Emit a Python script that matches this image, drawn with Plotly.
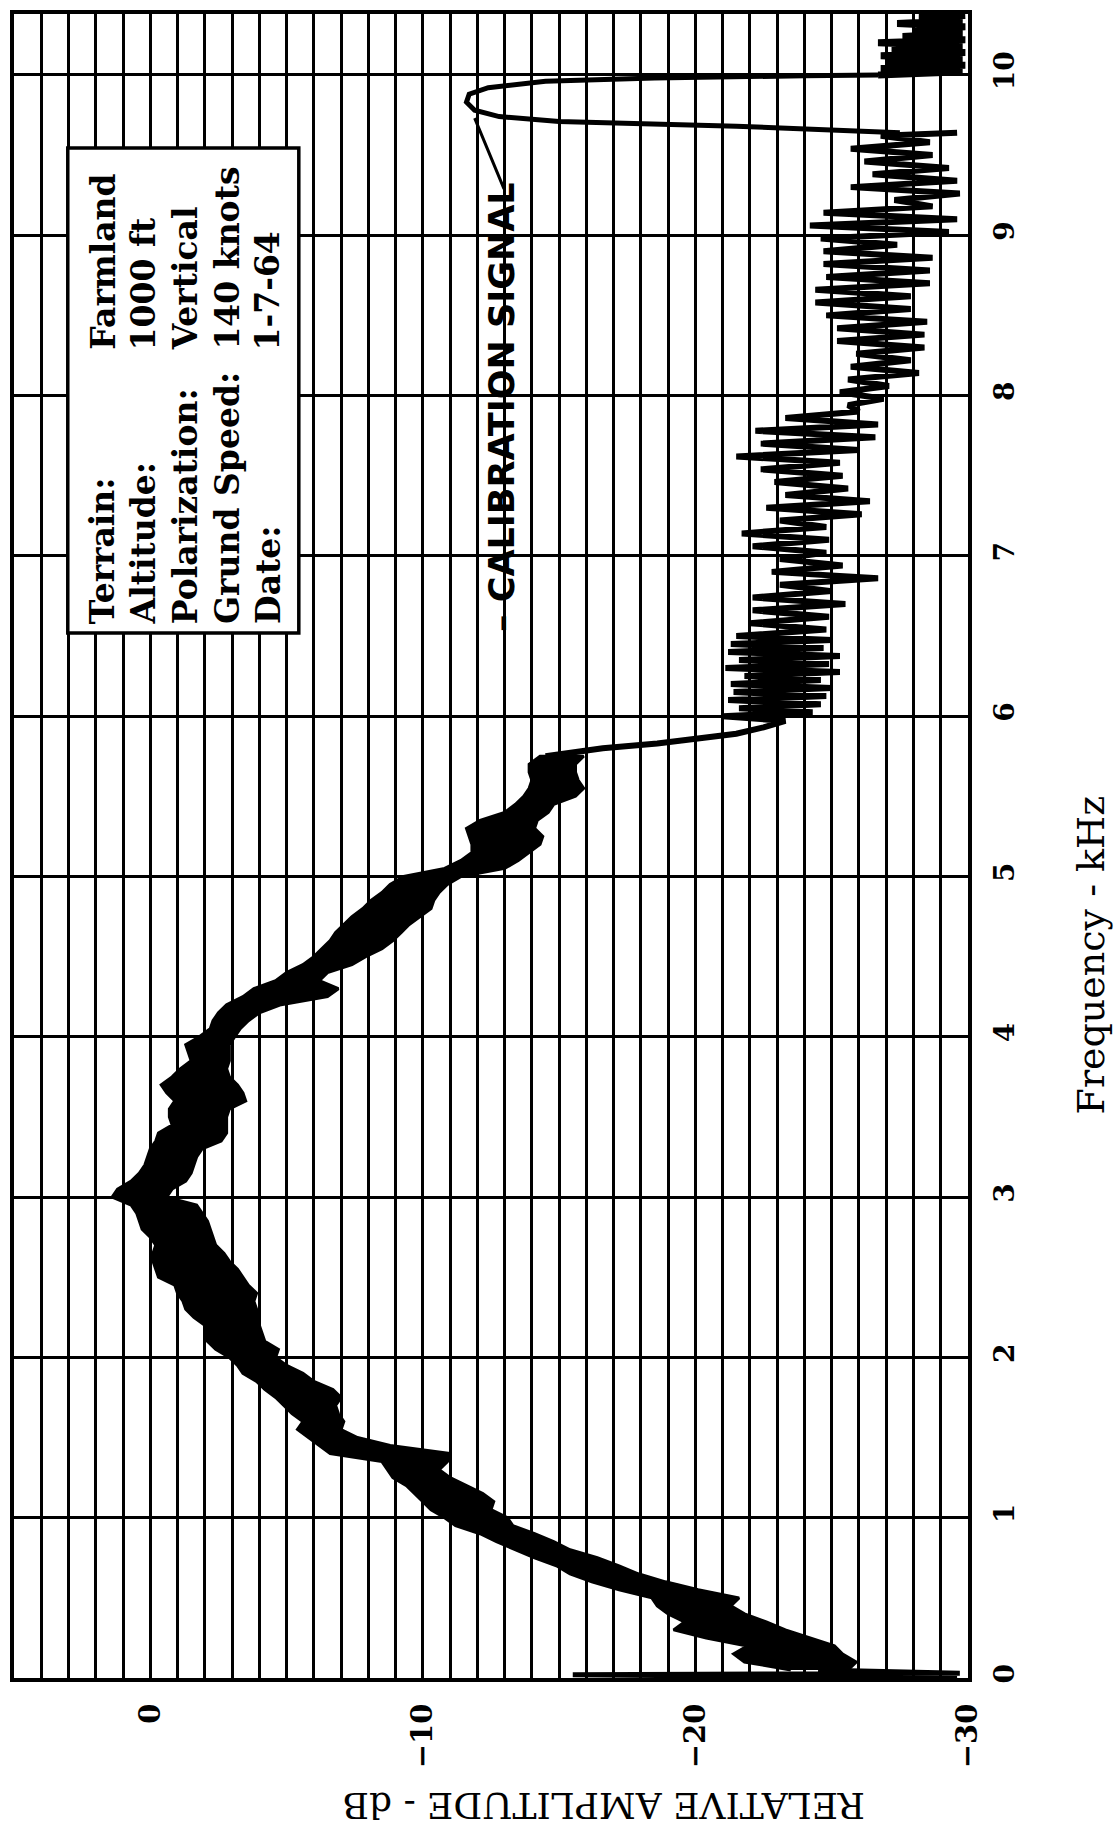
import plotly.graph_objects as go

# ---------------- data (original orientation: frequency kHz vs relative amplitude dB) -------------
BAND_KHZ = [0.05, 0.10, 0.15, 0.20, 0.25, 0.30, 0.35, 0.40, 0.45, 0.50, 0.55, 0.60, 0.65, 0.70, 0.75,
            0.80, 0.85, 0.90, 0.95, 1.00, 1.05, 1.10, 1.15, 1.20, 1.25, 1.30, 1.35, 1.40, 1.45, 1.50,
            1.55, 1.60, 1.65, 1.70, 1.75, 1.80, 1.85, 1.90, 1.95, 2.00, 2.05, 2.10, 2.15, 2.20, 2.25,
            2.30, 2.35, 2.40, 2.45, 2.50, 2.55, 2.60, 2.65, 2.70, 2.75, 2.80, 2.85, 2.90, 2.95, 3.00,
            3.05, 3.10, 3.15, 3.20, 3.25, 3.30, 3.35, 3.40, 3.45, 3.50, 3.55, 3.60, 3.65, 3.70, 3.75,
            3.80, 3.85, 3.90, 3.95, 4.00, 4.05, 4.10, 4.15, 4.20, 4.25, 4.30, 4.35, 4.40, 4.45, 4.50,
            4.55, 4.60, 4.65, 4.70, 4.75, 4.80, 4.85, 4.90, 4.95, 5.00, 5.05, 5.10, 5.15, 5.20, 5.25,
            5.30, 5.35, 5.40, 5.45, 5.50, 5.55, 5.60, 5.65, 5.70, 5.75]
BAND_HI_DB = [-23.5, -21.8, -21.4, -21.9, -20.4, -19.2, -19.6, -19.0, -18.6, -18.4, -17.2, -16.2, -15.4, -14.9, -14.1,
              -13.4, -12.7, -12.1, -11.2, -10.8, -10.3, -10.0, -9.7, -9.4, -8.9, -8.7, -8.5, -6.6, -6.2, -5.8,
              -5.4, -5.6, -5.2, -4.9, -4.6, -4.2, -3.9, -3.4, -3.2, -2.9, -2.4, -2.1, -2.0, -2.0, -1.6,
              -1.3, -1.2, -1.0, -0.9, -0.3, -0.2, -0.1, -0.1, -0.2, 0.0, 0.3, 0.4, 0.5, 0.7, 1.4,
              1.2, 0.7, 0.4, 0.2, 0.1, 0.0, -0.2, -0.3, -0.8, -0.7, -0.7, -0.9, -0.6, -0.4, -0.8,
              -1.1, -1.5, -1.4, -1.3, -1.8, -2.2, -2.3, -2.5, -2.8, -3.4, -3.8, -4.6, -5.0, -5.6, -6.0,
              -6.3, -6.6, -6.8, -7.1, -7.4, -7.8, -8.1, -8.5, -8.8, -9.3, -10.8, -11.4, -11.8, -11.8, -11.7,
              -11.6, -12.1, -13.0, -13.4, -13.7, -13.9, -14.0, -13.9, -13.9, -14.3]
BAND_LO_DB = [-25.6, -25.9, -25.4, -25.1, -24.2, -23.3, -22.6, -21.8, -21.3, -21.6, -20.1, -18.9, -17.9, -17.2, -16.4,
              -15.4, -14.8, -14.1, -13.3, -13.1, -12.5, -12.6, -12.2, -11.6, -11.0, -10.6, -10.9, -11.0, -8.8, -7.6,
              -7.0, -7.1, -6.9, -6.8, -7.0, -6.7, -6.0, -5.6, -5.0, -4.6, -4.7, -4.2, -4.1, -4.0, -3.9,
              -3.9, -3.8, -3.9, -3.6, -3.4, -3.2, -2.9, -2.7, -2.4, -2.3, -2.2, -2.1, -1.9, -1.7, -0.6,
              -0.8, -1.3, -1.5, -1.6, -1.7, -1.9, -2.6, -2.8, -2.8, -2.8, -2.9, -3.5, -3.4, -3.2, -2.9,
              -2.8, -2.9, -2.9, -2.9, -3.1, -3.3, -3.6, -4.0, -4.8, -6.5, -6.9, -6.2, -6.5, -7.4, -7.9,
              -8.5, -8.9, -9.2, -9.5, -9.9, -10.3, -10.4, -10.6, -10.9, -11.4, -13.0, -13.5, -13.9, -14.3, -14.4,
              -14.1, -14.2, -14.6, -14.8, -15.6, -15.9, -15.7, -15.6, -15.6, -15.9]

LOW_SPIKE_KHZ = [0.00, 0.02, 0.03, 0.05]
LOW_SPIKE_DB = [-29.6, -15.5, -29.7, -24.5]

PEN_KHZ = [5.75, 5.78, 5.80, 5.83, 5.86, 5.89, 5.93, 5.97,
           6.000, 6.025, 6.050, 6.075, 6.100, 6.125, 6.150, 6.175, 6.200, 6.225, 6.250, 6.275,
           6.300, 6.325, 6.350, 6.375, 6.400, 6.425, 6.450, 6.475, 6.500,
           6.54, 6.58, 6.62, 6.66, 6.70, 6.74, 6.78, 6.82, 6.86, 6.90, 6.94, 6.98,
           7.02, 7.06, 7.10, 7.14, 7.18, 7.22, 7.26, 7.30, 7.34, 7.38, 7.42, 7.46, 7.50,
           7.54, 7.58, 7.62, 7.66, 7.70, 7.74, 7.78, 7.82, 7.86, 7.90, 7.94, 7.98,
           8.02, 8.06, 8.10, 8.14, 8.18, 8.22, 8.26, 8.30, 8.34, 8.38, 8.42, 8.46, 8.50,
           8.54, 8.58, 8.62, 8.66, 8.70, 8.74, 8.78, 8.82, 8.86, 8.90, 8.94, 8.98,
           9.02, 9.06, 9.10, 9.14, 9.18, 9.22, 9.26, 9.30, 9.34, 9.38, 9.42, 9.46, 9.50,
           9.54, 9.58, 9.62, 9.64]
PEN_DB = [-14.5, -15.6, -16.6, -18.6, -20.3, -21.5, -22.5, -23.3,
          -21.0, -24.3, -21.6, -24.6, -21.2, -24.8, -21.4, -25.0, -21.3, -24.6, -21.8, -25.3,
          -21.1, -24.9, -21.6, -25.3, -21.2, -24.7, -21.3, -25.0, -21.5,
          -24.8, -22.0, -24.9, -22.1, -25.5, -22.1, -25.0, -23.1, -26.7, -22.8, -25.4, -23.1,
          -24.8, -22.1, -24.9, -21.7, -24.8, -23.1, -26.1, -22.6, -26.4, -23.3, -25.6, -22.9, -25.4,
          -22.4, -25.3, -21.5, -26.0, -22.4, -26.6, -22.2, -26.7, -23.3, -26.0, -25.6, -26.9,
          -25.3, -27.1, -25.6, -28.2, -25.7, -27.9, -25.9, -28.4, -25.2, -28.4, -25.2, -28.5, -24.8,
          -27.9, -24.4, -27.9, -24.4, -28.6, -24.8, -28.6, -24.7, -28.7, -24.7, -27.4, -24.6,
          -29.3, -24.2, -29.6, -24.7, -28.7, -27.3, -29.7, -25.7, -29.6, -26.5, -29.3, -26.2, -28.7,
          -25.7, -28.6, -26.8, -29.6, -27.5]

CAL_KHZ = [9.64, 9.68, 9.71, 9.74, 9.78, 9.83, 9.88, 9.92, 9.96, 9.98, 9.995, 10.00]
CAL_DB = [-27.5, -21.5, -15.0, -12.8, -11.9, -11.6, -11.7, -12.4, -14.5, -18.5, -24.0, -26.7]

TOP_KHZ = [10.00, 10.02, 10.04, 10.06, 10.08, 10.10, 10.12, 10.14, 10.16, 10.18, 10.20,
           10.22, 10.24, 10.26, 10.28, 10.30, 10.32, 10.34, 10.36, 10.37]
TOP_DB = [-26.7, -29.8, -26.8, -29.9, -27.0, -29.8, -26.8, -29.9, -27.2, -29.8, -26.7,
          -29.9, -27.6, -29.8, -28.0, -29.9, -27.4, -29.8, -28.2, -29.9]

AMP_TICKS = [0, -10, -20, -30]
AMP_TICK_TEXT = ["0", "\u221210", "\u221220", "\u221230"]
FREQ_TICKS = [0, 1, 2, 3, 4, 5, 6, 7, 8, 9, 10]
FREQ_TICK_TEXT = ["0", "1", "2", "3", "4", "5", "6", "7", "8", "9", "10"]

INFO_LABELS = ["Terrain:", "Altitude:", "Polarization:", "Grund Speed:", "Date:"]
INFO_VALUES = ["Farmland", "1000 ft", "Vertical", "140 knots", "1-7-64"]

# ---------------- figure -------------
W, H = 1118, 1832
L, R, T, B = 10, 150, 14, 154
PW, PH = W - L - R, H - T - B


def px(xp):
    return (xp - L) / PW


def py(yp):
    return (H - B - yp) / PH


fig = go.Figure()

band_x = BAND_HI_DB + BAND_LO_DB[::-1]
band_y = BAND_KHZ + BAND_KHZ[::-1]
fig.add_trace(go.Scatter(x=band_x, y=band_y, mode="lines", fill="toself", fillcolor="black",
                         line=dict(color="black", width=3), hoverinfo="skip", showlegend=False))
fig.add_trace(go.Scatter(x=LOW_SPIKE_DB, y=LOW_SPIKE_KHZ, mode="lines",
                         line=dict(color="black", width=5), showlegend=False))
fig.add_trace(go.Scatter(x=PEN_DB, y=PEN_KHZ, mode="lines",
                         line=dict(color="black", width=6), showlegend=False))
fig.add_trace(go.Scatter(x=CAL_DB, y=CAL_KHZ, mode="lines",
                         line=dict(color="black", width=5), showlegend=False))
fig.add_trace(go.Scatter(x=TOP_DB, y=TOP_KHZ, mode="lines",
                         line=dict(color="black", width=7), showlegend=False))

tickfont = dict(family="DejaVu Serif", size=29, color="black", weight="bold")

fig.update_layout(
    width=W, height=H, autosize=False,
    margin=dict(l=L, r=R, t=T, b=B, pad=0),
    paper_bgcolor="white", plot_bgcolor="white",
    showlegend=False,
    xaxis=dict(range=[5, -30], tickvals=AMP_TICKS, ticktext=AMP_TICK_TEXT, tickangle=-90,
               tickfont=tickfont, showgrid=True, gridcolor="black", gridwidth=2.8,
               minor=dict(dtick=1, showgrid=True, gridcolor="black", gridwidth=2.6),
               showline=True, linecolor="black", linewidth=4, mirror=True,
               zeroline=False, ticks="", ticklabelstandoff=10),
    yaxis=dict(range=[0, 10.38], side="right", tickvals=FREQ_TICKS, ticktext=FREQ_TICK_TEXT,
               tickangle=-90, tickfont=dict(family="DejaVu Serif", size=28, color="black", weight="bold"),
               showgrid=True, gridcolor="black", gridwidth=3,
               showline=True, linecolor="black", linewidth=4, mirror=True,
               zeroline=False, ticks="", ticklabelstandoff=8),
)

# info box
fig.add_shape(type="rect", xref="paper", yref="paper",
              x0=px(64), x1=px(296), y0=py(633), y1=py(148),
              line=dict(color="black", width=3.5), fillcolor="white", layer="above")

col_x = [99, 140, 182, 224, 265]
boxfont = dict(family="DejaVu Serif", size=33, color="black", weight="bold")
for cx, lab, val in zip(col_x, INFO_LABELS, INFO_VALUES):
    fig.add_annotation(text=lab, xref="paper", yref="paper", x=px(cx), y=py(626),
                       xanchor="center", yanchor="bottom", textangle=-90, showarrow=False,
                       font=boxfont)
    fig.add_annotation(text=val, xref="paper", yref="paper", x=px(cx), y=py(352),
                       xanchor="center", yanchor="bottom", textangle=-90, showarrow=False,
                       font=boxfont)

# calibration label and leader
fig.add_annotation(text="\u2013 CALIBRATION SIGNAL", xref="paper", yref="paper",
                   x=px(500), y=py(634), xanchor="center", yanchor="bottom", textangle=-90,
                   showarrow=False,
                   font=dict(family="DejaVu Sans", size=35, color="black", weight="bold"))
fig.add_annotation(text="", x=-11.9, y=9.73, xref="x", yref="y",
                   ax=-13.0, ay=9.28, axref="x", ayref="y",
                   showarrow=True, arrowhead=0, arrowwidth=3, arrowcolor="black")

# axis titles
fig.add_annotation(text="Frequency - kHz", xref="paper", yref="paper", x=px(1092), y=py(955),
                   xanchor="center", yanchor="middle", textangle=-90, showarrow=False,
                   font=dict(family="DejaVu Serif", size=38, color="black"))
fig.add_annotation(text="RELATIVE AMPLITUDE - dB", xref="paper", yref="paper", x=px(602), y=py(1806),
                   xanchor="center", yanchor="middle", textangle=180, showarrow=False,
                   font=dict(family="DejaVu Serif", size=36, color="black"))

fig.write_html("out.html")
